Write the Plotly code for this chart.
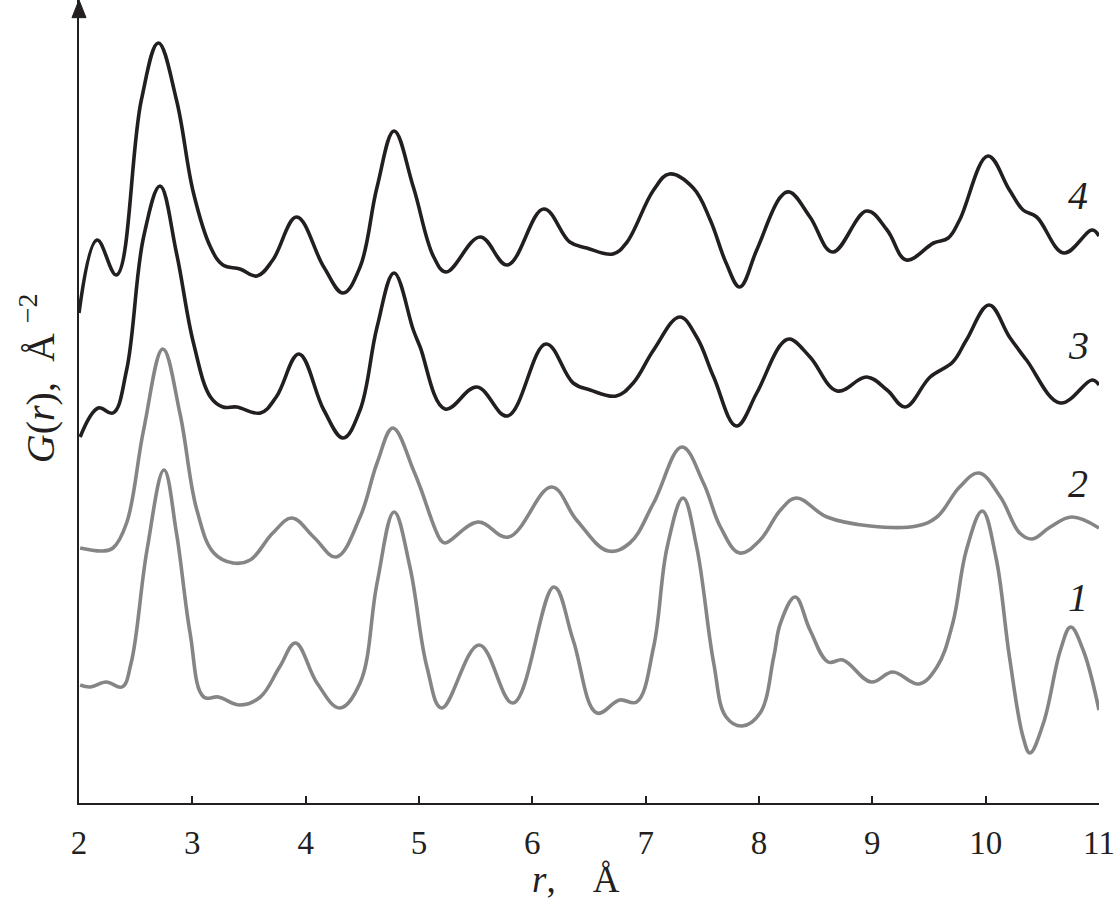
import plotly.graph_objects as go

# r, Å and G(r) (arbitrary units, curves offset vertically)
r1 = [2.01, 2.10, 2.24, 2.38, 2.46, 2.60, 2.75, 2.86, 2.98, 3.10, 3.23, 3.42, 3.60, 3.77, 3.91, 4.10, 4.30, 4.48, 4.63, 4.78, 4.92, 5.07, 5.20, 5.53, 5.83, 6.19, 6.36, 6.57, 6.77, 6.92, 7.07, 7.19, 7.33, 7.45, 7.60, 7.71, 7.85, 8.01, 8.13, 8.19, 8.32, 8.45, 8.61, 8.74, 8.99, 9.18, 9.41, 9.57, 9.71, 9.83, 9.97, 10.09, 10.21, 10.33, 10.39, 10.51, 10.66, 10.75, 10.86, 11.00]
g1 = [1.18, 1.16, 1.21, 1.16, 1.40, 2.53, 3.33, 2.70, 1.70, 1.06, 1.06, 0.98, 1.06, 1.36, 1.60, 1.20, 0.95, 1.20, 2.20, 2.91, 2.36, 1.36, 0.95, 1.58, 1.00, 2.16, 1.63, 0.90, 1.03, 1.01, 1.56, 2.56, 3.05, 2.56, 1.40, 0.86, 0.77, 0.90, 1.46, 1.80, 2.06, 1.73, 1.41, 1.43, 1.21, 1.31, 1.19, 1.36, 1.80, 2.53, 2.92, 2.46, 1.46, 0.66, 0.50, 0.80, 1.53, 1.76, 1.53, 0.93]

r2 = [2.01, 2.21, 2.30, 2.42, 2.57, 2.74, 2.89, 3.04, 3.19, 3.36, 3.51, 3.71, 3.88, 4.07, 4.27, 4.48, 4.63, 4.77, 4.95, 5.01, 5.19, 5.23, 5.52, 5.79, 6.17, 6.39, 6.67, 6.86, 7.07, 7.32, 7.51, 7.66, 7.83, 8.01, 8.19, 8.33, 8.60, 8.98, 9.39, 9.57, 9.77, 9.94, 10.13, 10.30, 10.41, 10.57, 10.76, 11.00]
g2 = [2.55, 2.52, 2.55, 2.80, 3.73, 4.54, 3.90, 2.93, 2.50, 2.40, 2.43, 2.70, 2.85, 2.66, 2.46, 2.86, 3.40, 3.75, 3.33, 3.16, 2.63, 2.60, 2.81, 2.66, 3.16, 2.83, 2.52, 2.60, 3.00, 3.56, 3.20, 2.76, 2.50, 2.63, 2.93, 3.05, 2.86, 2.77, 2.77, 2.86, 3.16, 3.30, 3.06, 2.70, 2.64, 2.76, 2.86, 2.75]

r3 = [2.01, 2.17, 2.30, 2.42, 2.57, 2.715, 2.86, 3.01, 3.16, 3.27, 3.39, 3.60, 3.74, 3.94, 4.16, 4.33, 4.48, 4.63, 4.78, 4.95, 5.01, 5.23, 5.51, 5.78, 6.12, 6.36, 6.51, 6.74, 6.89, 7.07, 7.30, 7.45, 7.60, 7.80, 7.98, 8.19, 8.27, 8.45, 8.69, 8.95, 9.13, 9.29, 9.51, 9.71, 9.83, 10.03, 10.21, 10.36, 10.66, 10.94, 11.00]
g3 = [3.66, 3.95, 3.90, 4.33, 5.66, 6.17, 5.50, 4.60, 4.06, 3.96, 3.96, 3.90, 4.06, 4.49, 3.93, 3.65, 3.93, 4.76, 5.30, 4.73, 4.56, 3.94, 4.16, 3.87, 4.59, 4.20, 4.13, 4.07, 4.20, 4.53, 4.86, 4.66, 4.26, 3.77, 4.10, 4.58, 4.64, 4.46, 4.12, 4.26, 4.13, 3.96, 4.26, 4.41, 4.63, 4.98, 4.66, 4.43, 4.00, 4.23, 4.18]

r4 = [2.00, 2.16, 2.33, 2.55, 2.70, 2.86, 3.01, 3.16, 3.27, 3.42, 3.57, 3.71, 3.92, 4.16, 4.33, 4.48, 4.63, 4.78, 4.95, 5.13, 5.24, 5.54, 5.78, 6.10, 6.33, 6.48, 6.71, 6.83, 7.07, 7.21, 7.42, 7.57, 7.71, 7.83, 7.98, 8.19, 8.27, 8.45, 8.65, 8.95, 9.13, 9.30, 9.54, 9.67, 9.77, 10.02, 10.21, 10.33, 10.45, 10.69, 10.94, 11.00]
g4 = [4.90, 5.63, 5.28, 7.03, 7.60, 7.03, 6.10, 5.56, 5.38, 5.34, 5.27, 5.43, 5.86, 5.36, 5.10, 5.36, 6.16, 6.72, 6.16, 5.46, 5.31, 5.66, 5.38, 5.94, 5.61, 5.55, 5.49, 5.60, 6.13, 6.29, 6.15, 5.83, 5.40, 5.16, 5.53, 6.06, 6.11, 5.86, 5.51, 5.92, 5.73, 5.43, 5.60, 5.65, 5.83, 6.47, 6.13, 5.93, 5.86, 5.50, 5.73, 5.67]

curve_labels = ["1", "2", "3", "4"]
label_r = [10.815, 10.815, 10.815, 10.815]
label_g = [2.06, 3.20, 4.58, 6.08]

x_ticks = [2, 3, 4, 5, 6, 7, 8, 9, 10, 11]

GRAY = "#858585"
DARK = "#231f20"
SERIF = "Liberation Serif, Times New Roman, serif"
NB = "\u00a0"

fig = go.Figure()
for r, g, c in [(r1, g1, GRAY), (r2, g2, GRAY), (r3, g3, DARK), (r4, g4, DARK)]:
    fig.add_trace(go.Scatter(x=r, y=g, mode="lines",
                             line=dict(color=c, width=3.6, shape="spline", smoothing=1.1),
                             showlegend=False, hoverinfo="skip", cliponaxis=False))

for t, x, y in zip(curve_labels, label_r, label_g):
    fig.add_annotation(x=x, y=y, text=f"<i>{t}</i>", showarrow=False,
                       font=dict(family=SERIF, size=40, color="#231f20"))

# axis titles
fig.add_annotation(xref="paper", yref="paper", x=0.487, y=0, yshift=-76, yanchor="middle",
                   borderpad=0,
                   text="<i>r</i>," + NB * 4 + "Å", showarrow=False,
                   font=dict(family=SERIF, size=37, color="#231f20"))
fig.add_annotation(xref="paper", yref="paper", x=0, y=0.529, xshift=-42, xanchor="center",
                   yanchor="middle",
                   text="<i>G</i>(<i>r</i>)," + NB * 2 + "Å" + NB + "<sup>−2</sup>",
                   textangle=-90, showarrow=False,
                   font=dict(family=SERIF, size=40, color="#231f20"))

# arrowhead on y axis
fig.add_shape(type="path", xref="paper", yref="paper",
              path="M -0.0069,0.978 L 0,1.0 L 0.0069,0.978 Z",
              fillcolor="#231f20", line=dict(color="#231f20", width=1))

fig.update_xaxes(range=[2, 11], tickvals=x_ticks, ticks="inside", ticklen=7, tickwidth=1.5,
                 tickcolor="#231f20", showline=True, linecolor="#231f20", linewidth=2,
                 showgrid=False, zeroline=False, ticklabelstandoff=9,
                 tickfont=dict(family=SERIF, size=33, color="#231f20"))
fig.update_yaxes(range=[0, 8.03], showticklabels=False, ticks="", showline=True,
                 linecolor="#231f20", linewidth=2, showgrid=False, zeroline=False)

fig.update_layout(width=1117, height=915, plot_bgcolor="white", paper_bgcolor="white",
                  margin=dict(l=79, r=18, t=0, b=112))

fig.write_html("out.html", config={"displayModeBar": False},
               post_script="document.body.style.margin='0';")
